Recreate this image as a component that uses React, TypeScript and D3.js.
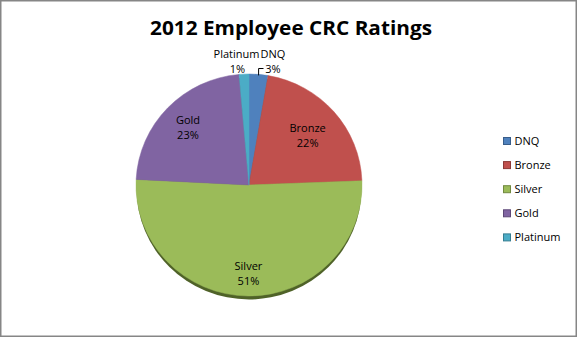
import React from "react";
import * as d3 from "d3";

const categories = ["DNQ", "Bronze", "Silver", "Gold", "Platinum"];
const values = [2.7, 21.7, 51.4, 22.8, 1.4];
const percentLabels = ["3%", "22%", "51%", "23%", "1%"];
const title = "2012 Employee CRC Ratings";

const colors = ["#4f81bd", "#c0504d", "#9bbb59", "#8064a2", "#4bacc6"];
const borderColors = ["#385d8a", "#8c3836", "#71893f", "#5c4776", "#357d91"];
// label radius as fraction of pie radius (inside labels); null = outside label
const labelR = [null, 0.69, 0.79, 0.75, null];

const W = 577, H = 337;
const cx = 249, cy = 185, rx = 113, ry = 111;

export default function App() {
  const pie = d3.pie<number>().sort(null).value((d) => d).startAngle(0).endAngle(2 * Math.PI);
  const arcs = pie(values);
  const arc = d3.arc<d3.PieArcDatum<number>>().innerRadius(0).outerRadius(rx);
  const sy = ry / rx;
  const font = "'Open Sans', 'Noto Sans', sans-serif";

  const pos = (a: number, r: number) => [cx + Math.sin(a) * r, cy - Math.cos(a) * r * sy];

  return (
    <svg width={W} height={H} style={{ position: "absolute", left: 0, top: 0 }} fontFamily={font}>
      <rect x={0} y={0} width={W} height={H} fill="#fff" />
      <rect x={0.75} y={0.75} width={W - 1.5} height={H - 1.5} fill="none" stroke="#868686" strokeWidth={1.5} />
      <text x={291} y={35} textAnchor="middle" fontWeight="bold" fontSize={19} textLength={282} lengthAdjust="spacingAndGlyphs" fill="#000">
        {title}
      </text>
      {/* pie side (depth) */}
      <ellipse cx={cx} cy={cy + 3.5} rx={rx - 0.5} ry={ry} fill="#4f6228" />
      <g transform={`translate(${cx},${cy}) scale(1,${sy})`}>
        {arcs.map((a, i) => (
          <path key={categories[i]} d={arc(a) || ""} fill={colors[i]} stroke={colors[i]} strokeWidth={0.5} />
        ))}
      </g>
      {arcs.map((a, i) => {
        const r = labelR[i];
        if (r == null) return null;
        const mid = (a.startAngle + a.endAngle) / 2;
        const [x, y] = pos(mid, r * rx);
        return (
          <text key={"l" + i} x={x} y={y} textAnchor="middle" fontSize={11} fill="#000">
            <tspan x={x} dy={-3}>{categories[i]}</tspan>
            <tspan x={x} dy={15}>{percentLabels[i]}</tspan>
          </text>
        );
      })}
      {/* outside labels */}
      {(() => {
        const pIdx = 4, dIdx = 0;
        const dMid = (arcs[dIdx].startAngle + arcs[dIdx].endAngle) / 2;
        const [ex, ey] = pos(dMid, rx);
        return (
          <g fontSize={11} fill="#000">
            <text x={236.5} y={58} textAnchor="middle">{categories[pIdx]}</text>
            <text x={237.5} y={73} textAnchor="middle">{percentLabels[pIdx]}</text>
            <text x={273} y={58} textAnchor="middle">{categories[dIdx]}</text>
            <text x={273} y={73} textAnchor="middle">{percentLabels[dIdx]}</text>
            <path d={`M263.5,68.5 H${ex.toFixed(1)} V${(ey + 1).toFixed(1)}`} fill="none" stroke="#000" strokeWidth={1} />
          </g>
        );
      })()}
      {/* legend */}
      {categories.map((c, i) => {
        const y = 141 + i * 24.1;
        return (
          <g key={"lg" + c}>
            <rect x={503.5} y={y - 3.5} width={7} height={7} fill={colors[i]} stroke={borderColors[i]} strokeWidth={1} />
            <text x={514.5} y={y + 4} fontSize={11} fill="#000">{c}</text>
          </g>
        );
      })}
    </svg>
  );
}
